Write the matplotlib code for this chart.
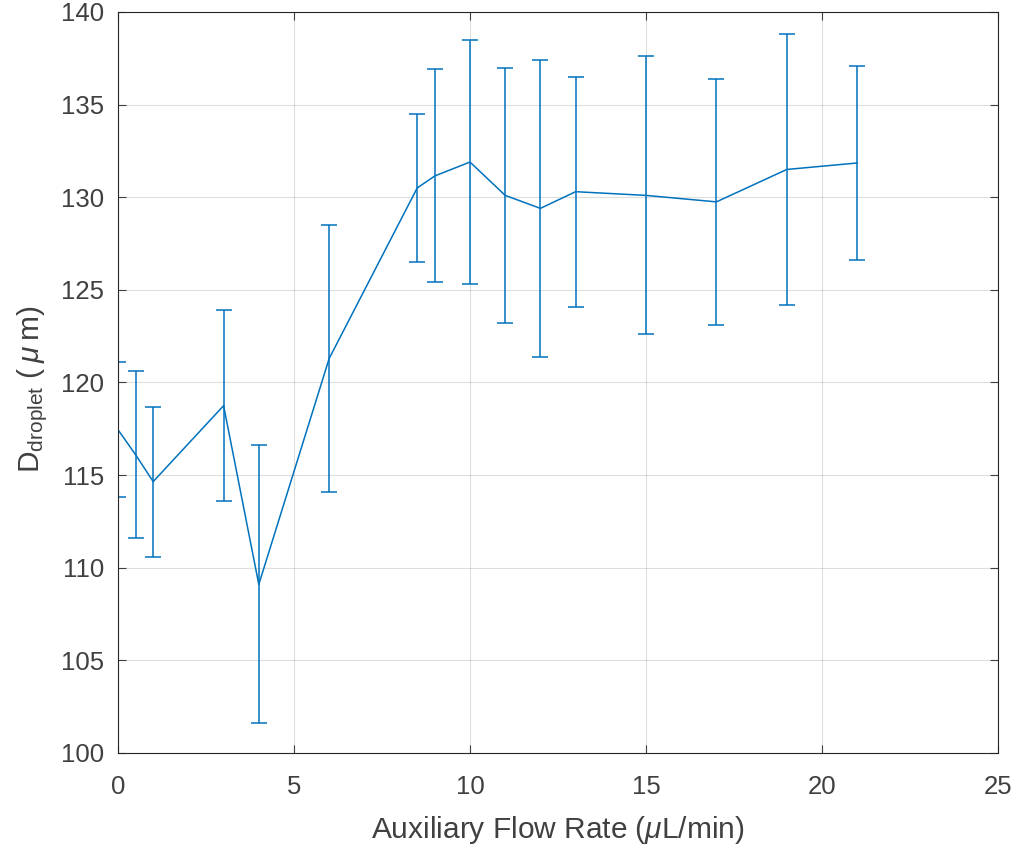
import matplotlib
matplotlib.use("Agg")
import matplotlib.pyplot as plt

# Data
flow_rate = [0, 0.5, 1, 3, 4, 6, 8.5, 9, 10, 11, 12, 13, 15, 17, 19, 21]
d_mean = [117.45, 116.1, 114.65, 118.75, 109.1, 121.3, 130.5, 131.15,
          131.9, 130.1, 129.4, 130.3, 130.1, 129.75, 131.5, 131.85]
d_err = [3.65, 4.5, 4.05, 5.15, 7.5, 7.2, 4.0, 5.75,
         6.6, 6.9, 8.0, 6.2, 7.5, 6.65, 7.3, 5.25]

x_ticks = [0, 5, 10, 15, 20, 25]
y_ticks = [100, 105, 110, 115, 120, 125, 130, 135, 140]

plt.rcParams['font.family'] = ['Liberation Sans', 'DejaVu Sans']
plt.rcParams['mathtext.fontset'] = 'custom'
plt.rcParams['mathtext.rm'] = 'Liberation Sans'
plt.rcParams['mathtext.it'] = 'Liberation Sans:italic'

fig = plt.figure(figsize=(10.19, 8.5), dpi=100)
ax = fig.add_axes([118/1019, 1 - 753/850, (998-118)/1019, (753-12)/850])

color = '#0072BD'
ax.errorbar(flow_rate, d_mean, yerr=d_err, color=color, lw=1.1,
            elinewidth=1.1, capsize=6, capthick=1.1)

ax.set_xlim(0, 25)
ax.set_ylim(100, 140)
ax.set_xticks(x_ticks)
ax.set_yticks(y_ticks)
ax.grid(True, color='#262626', alpha=0.15, lw=0.8)
ax.set_axisbelow(True)
ax.tick_params(direction='in', length=6, width=0.8, colors='#404040',
               labelsize=18.5, top=True, right=True, labeltop=False, labelright=False)
ax.tick_params(axis='x', pad=16)
ax.tick_params(axis='y', pad=10)
for s in ax.spines.values():
    s.set_color('#262626')
    s.set_linewidth(0.8)

ax.set_xlabel(r'Auxiliary Flow Rate ($\mu$L/min)', fontsize=21.5, color='#404040', labelpad=10.5)
ax.set_ylabel(r'D$_{\rm droplet}$ ($\:\mu\:$m)', fontsize=21.5, color='#404040')
ax.yaxis.set_label_coords(-0.077, 0.491)

fig.savefig('out.png', dpi=100)
